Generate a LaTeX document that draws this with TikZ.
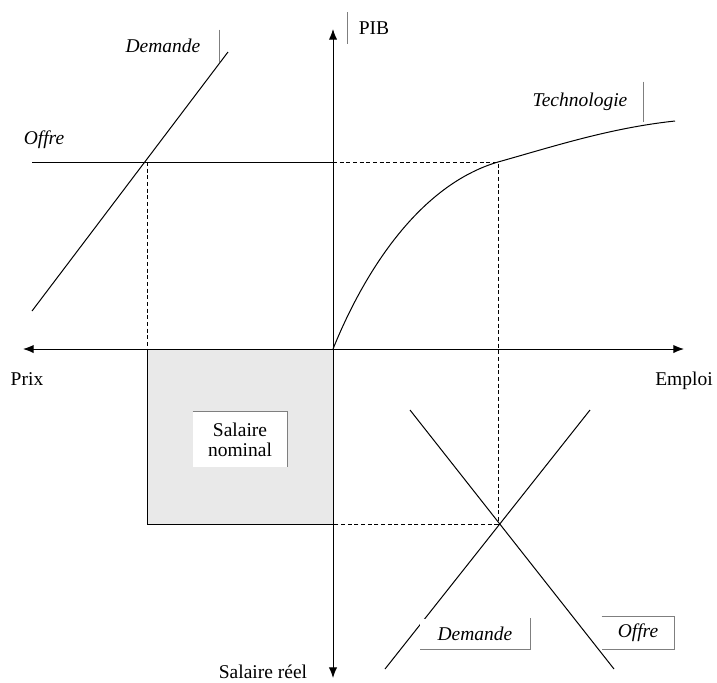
\documentclass[tikz,border=0pt]{standalone}
\usepackage{fontspec}
\setmainfont{Liberation Serif}
\usetikzlibrary{arrows.meta}

\definecolor{shade}{HTML}{E9E9E9}
\definecolor{framegray}{HTML}{7F7F7F}

\tikzset{
  axis/.style={line width=0.6pt, {Latex[length=6.4pt,width=5pt]}-{Latex[length=6.4pt,width=5pt]}},
  curve/.style={line width=0.6pt},
  guide/.style={line width=0.6pt, dash pattern=on 2.4pt off 1.6pt},
  frame/.style={draw=framegray, line width=0.5pt},
  lbl/.style={inner sep=0pt, font=\fontsize{11.7}{12}\selectfont},
  ilbl/.style={lbl, font=\fontsize{11.7}{12}\selectfont\itshape},
}

\begin{document}
\begin{tikzpicture}[x=0.6pt, y=-0.6pt]
\useasboundingbox (0,0) rectangle (717,682);

% key points
\coordinate (O) at (333,349);
\coordinate (eq) at (147,162);
\coordinate (top) at (498,162);
\coordinate (cross) at (500,524);
\coordinate (low) at (333,524);

% salaire nominal
\filldraw[fill=shade, line width=0.6pt] (147,349) rectangle (low);

% axes
\coordinate (xl) at (23,349);
\coordinate (xr) at (684,349);
\coordinate (yt) at (333,29);
\coordinate (yb) at (333,678);
\draw[axis] (xl) -- (xr);
\draw[axis] (yt) -- (yb);

% marche des biens
\draw[curve] (32,162) -- (O |- eq);
\draw[curve] (32,311) -- (228,52);
\draw[guide] (eq) -- (eq |- O);
\draw[guide] (O |- top) -- (top) -- (top |- cross) -- (low);

% technologie
\draw[curve] (O) .. controls (365,270) and (420,185) .. (top)
  .. controls (555,146) and (610,128) .. (675,121);

% marche du travail
\draw[curve] (410,410) -- (614,669);
\draw[curve] (590,410) -- (385,669);

% labels
\node at (163,46) [ilbl, minimum width=67.2pt, minimum height=19.2pt] (dmdtop) {Demande};
\draw[frame] (dmdtop.north east) -- (dmdtop.south east);
\node at (44,140) [ilbl] (offtop) {Offre};
\node at (374,28) [lbl, minimum width=31.2pt, minimum height=18.6pt] (pib) {PIB};
\draw[frame] (pib.north west) -- (pib.south west);
\node at (580,102) [ilbl, minimum width=75.6pt, minimum height=24pt] (tech) {Technologie};
\draw[frame] (tech.north east) -- (tech.south east);
\node at (27,379) [lbl] (prix) {Prix};
\node at (684,381) [lbl] (emploi) {Emploi};
\node at (240,439.5) [lbl, fill=white, align=center, minimum width=56.4pt, minimum height=33pt] (nominal) {Salaire\\nominal};
\draw[frame] (nominal.north west) -- (nominal.north east) -- (nominal.south east);
\node at (263,672) [lbl] (reel) {Salaire réel};
\node at (475,634) [ilbl, fill=white, minimum width=66pt, minimum height=18.6pt] (dmdbot) {Demande};
\draw[frame] (dmdbot.north east) -- (dmdbot.south east) -- (dmdbot.south west);
\node at (638,633) [ilbl, fill=white, minimum width=43.2pt, minimum height=19.2pt] (offbot) {Offre};
\draw[frame] (offbot.north west) -- (offbot.north east) -- (offbot.south east) -- (offbot.south west);

\end{tikzpicture}
\end{document}
